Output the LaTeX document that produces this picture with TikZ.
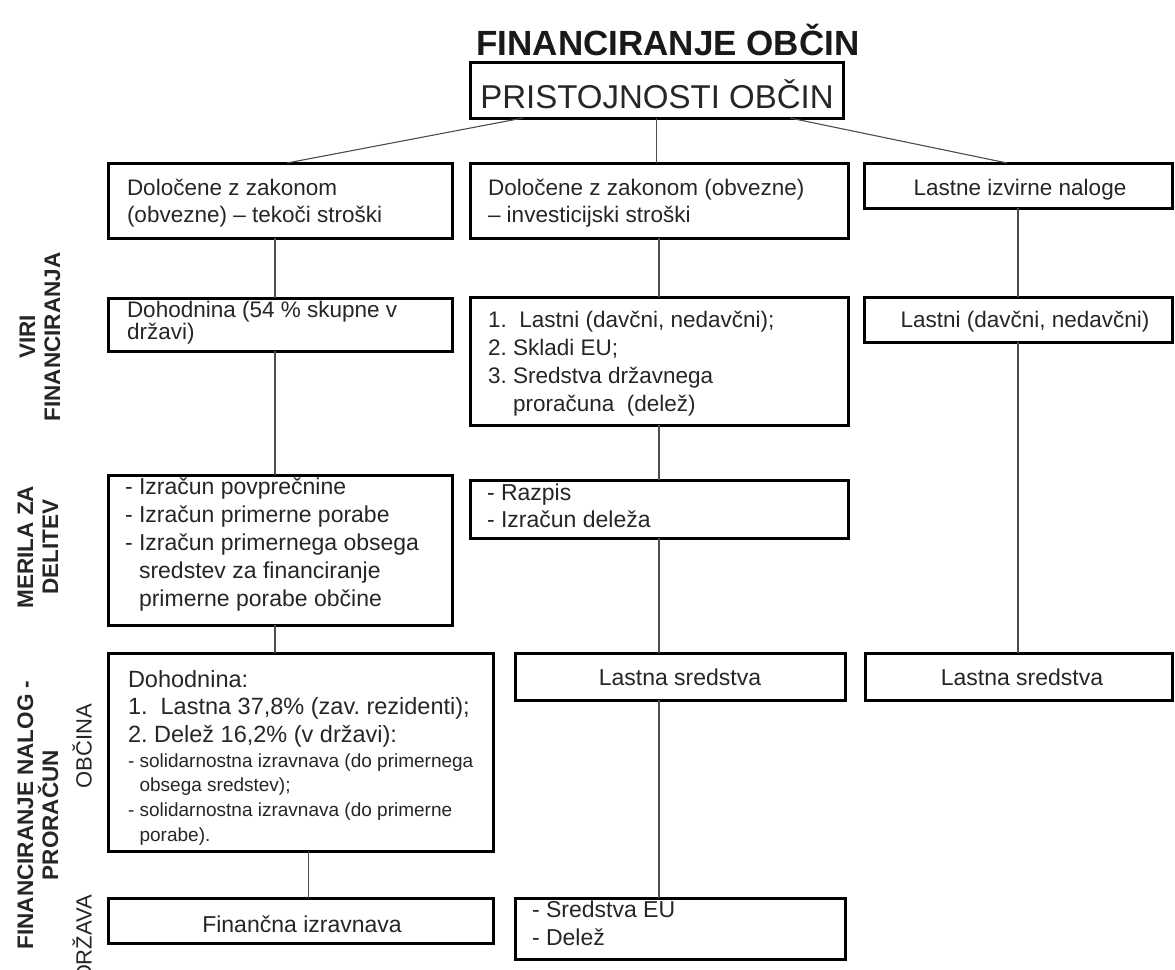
\documentclass[tikz,border=0pt]{standalone}
\usepackage{fontspec}
\setmainfont{Liberation Sans}
\usetikzlibrary{calc}
\frenchspacing
\newcommand\boxlines[1]{\parbox[t]{420pt}{#1}}
\begin{document}
\begin{tikzpicture}[x=1pt,y=-1pt,
  bx/.style={draw=black, line width=3pt, inner sep=0pt, outer sep=0pt, anchor=north west},
  cn/.style={draw=black!70, line width=1.1pt},
  tx/.style={inner sep=0pt, outer sep=0pt, text=black!85, anchor=base west, font=\fontsize{22.5}{27}\selectfont},
  tc/.style={tx, anchor=base},
  lab/.style={inner sep=0pt, rotate=90, align=center, text=black!85, font=\bfseries\fontsize{22.5}{25}\selectfont},
  labr/.style={lab, font=\fontsize{22}{25}\selectfont}
]
\useasboundingbox (0,0) rectangle (1175,969);
\fill[white] (0,0) rectangle (1175,969);
\clip (0,0) rectangle (1175,969);

% title
\node[tc, text=black!90, font=\bfseries\fontsize{35}{40}\selectfont] (title) at (668,55) {FINANCIRANJE OBČIN};

% boxes
\node[bx, minimum width=373pt, minimum height=56pt] (top) at (470,62) {};
\node[bx, minimum width=344pt, minimum height=75pt] (a1) at (108,163) {};
\node[bx, minimum width=378pt, minimum height=75pt] (b1) at (470,163) {};
\node[bx, minimum width=308pt, minimum height=45pt] (c1) at (864,163) {};
\node[bx, minimum width=344pt, minimum height=53pt] (a2) at (108,298) {};
\node[bx, minimum width=378pt, minimum height=128pt] (b2) at (470,297) {};
\node[bx, minimum width=308pt, minimum height=45pt] (c2) at (864,297) {};
\node[bx, minimum width=344pt, minimum height=150pt] (a3) at (108,475) {};
\node[bx, minimum width=378pt, minimum height=58pt] (b3) at (470,480) {};
\node[bx, minimum width=385pt, minimum height=198pt] (a4) at (108,653) {};
\node[bx, minimum width=330pt, minimum height=47pt] (b4) at (515,653) {};
\node[bx, minimum width=307pt, minimum height=47pt] (c4) at (865,653) {};
\node[bx, minimum width=385pt, minimum height=45pt] (a5) at (108,898) {};
\node[bx, minimum width=330pt, minimum height=61pt] (b5) at (515,898) {};

% texts
\node[tc, font=\fontsize{33}{38}\selectfont] (topt) at (657,108) {PRISTOJNOSTI OBČIN};
\node[tx] (a1t) at (127,195) {\boxlines{Določene z zakonom\\(obvezne) – tekoči stroški}};
\node[tx] (b1t) at (488,195) {\boxlines{Določene z zakonom (obvezne)\\– investicijski stroški}};
\node[tc] (c1t) at (1020,195) {Lastne izvirne naloge};
\node[tx, font=\fontsize{22.5}{20}\selectfont] (a2t) at (127,317) {\boxlines{Dohodnina (54 \% skupne v\\državi)}};
\node[tx, font=\fontsize{22.5}{28}\selectfont] (b2t) at (488,327) {\boxlines{1.\ \ Lastni (davčni, nedavčni);\\2. Skladi EU;\\3. Sredstva državnega\\\hphantom{3. }proračuna\ \ (delež)}};
\node[tc] (c2t) at (1025,327) {Lastni (davčni, nedavčni)};
\node[tx, font=\fontsize{23}{28}\selectfont] (a3t) at (125,494) {\boxlines{- Izračun povprečnine\\- Izračun primerne porabe\\- Izračun primernega obsega\\\hphantom{- }sredstev za financiranje\\\hphantom{- }primerne porabe občine}};
\node[tx, font=\fontsize{23}{27}\selectfont] (b3t) at (487,500) {\boxlines{- Razpis\\- Izračun deleža}};
\node[tx, font=\fontsize{23.5}{27.5}\selectfont] (a4t) at (128,687) {\boxlines{Dohodnina:\\1.\ \ Lastna 37,8\% (zav. rezidenti);\\2. Delež 16,2\% (v državi):}};
\node[tx, font=\fontsize{19}{24.7}\selectfont] (a4s) at (128,767) {\boxlines{- solidarnostna izravnava (do primernega\\\hphantom{- }obsega sredstev);\\- solidarnostna izravnava (do primerne\\\hphantom{- }porabe).}};
\node[tc, font=\fontsize{23}{27}\selectfont] (b4t) at (680,685) {Lastna sredstva};
\node[tc, font=\fontsize{23}{27}\selectfont] (c4t) at (1022,685) {Lastna sredstva};
\node[tc, font=\fontsize{23}{27}\selectfont] (a5t) at (302,932) {Finančna izravnava};
\node[tx, font=\fontsize{23}{28}\selectfont] (b5t) at (532,917) {\boxlines{- Sredstva EU\\- Delež}};

% side labels
\node[lab] (lv) at (40,337) {VIRI\\FINANCIRANJA};
\node[lab] (lm) at (38,547) {MERILA ZA\\DELITEV};
\node[lab] (lf) at (38,815) {FINANCIRANJE NALOG -\\PRORAČUN};
\node[labr] (lo) at (82,746) {OBČINA};
\node[labr] (ld) at (82,938) {DRŽAVA};

% connectors
\draw[cn] ([xshift=53pt]top.south west) -- ([xshift=179pt]a1.north west);
\draw[cn] (top.south) -- (top.south |- b1.north);
\draw[cn] ([xshift=320pt]top.south west) -- ([xshift=143pt]c1.north west);
\draw[cn] ([xshift=-5pt]a1.south) -- ([xshift=-5pt]a1.south |- a2.north);
\draw[cn] ([xshift=-5pt]a2.south) -- ([xshift=-5pt]a2.south |- a3.north);
\draw[cn] ([xshift=-5pt]a3.south) -- ([xshift=-5pt]a3.south |- a4.north);
\draw[cn] ([xshift=8pt]a4.south) -- ([xshift=8pt]a4.south |- a5.north);
\draw[cn] (b1.south) -- (b1.south |- b2.north);
\draw[cn] (b2.south) -- (b2.south |- b3.north);
\draw[cn] (b3.south) -- (b3.south |- b4.north);
\draw[cn] ([xshift=-21pt]b4.south) -- ([xshift=-21pt]b4.south |- b5.north);
\draw[cn] (c1.south) -- (c1.south |- c2.north);
\draw[cn] (c2.south) -- (c2.south |- c4.north);
\end{tikzpicture}
\end{document}
